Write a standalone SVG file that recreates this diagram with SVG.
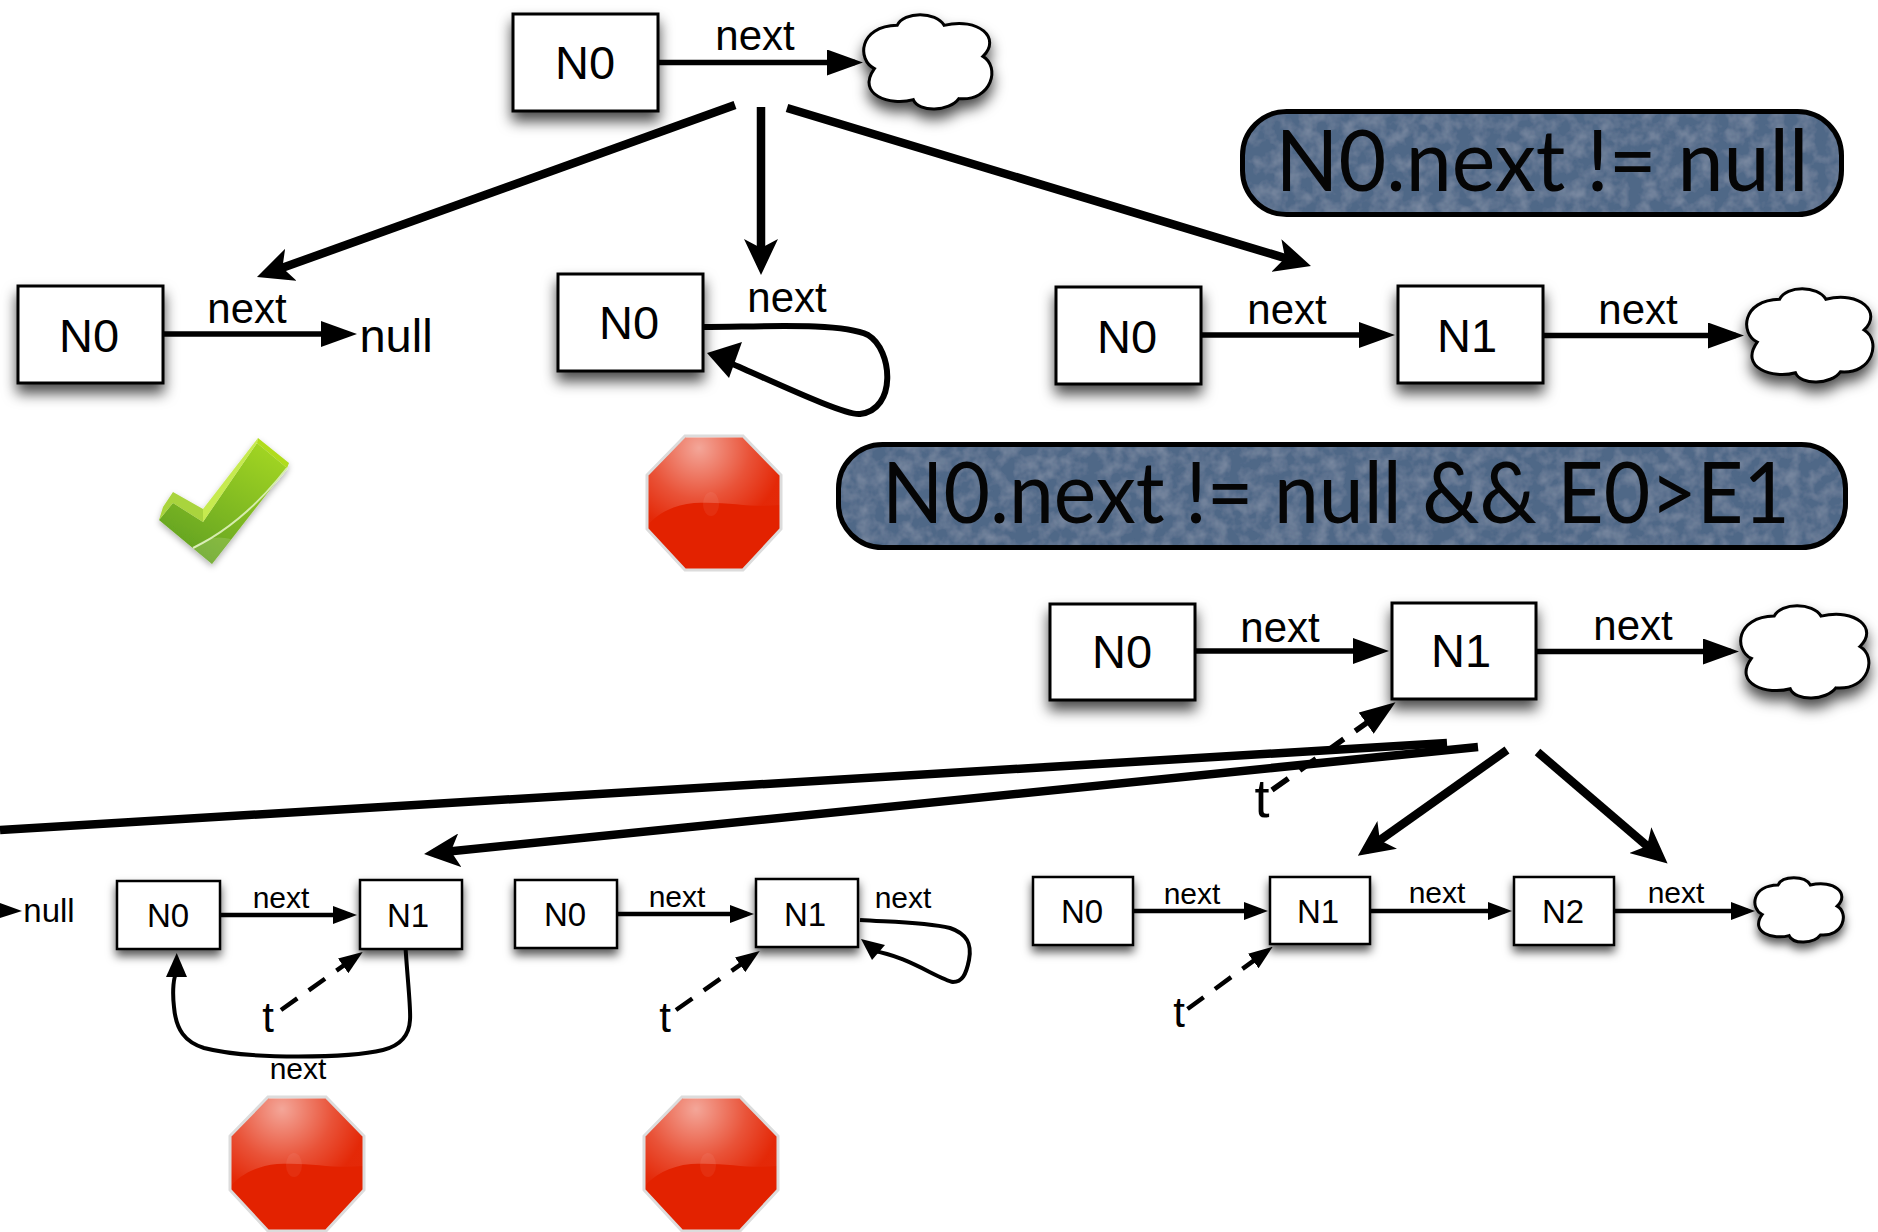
<svg xmlns="http://www.w3.org/2000/svg" width="1878" height="1232" viewBox="0 0 1878 1232">
<style>
text{font-family:"Liberation Sans",Arial,sans-serif;fill:#000;text-anchor:middle}
.box{fill:#fff;stroke:#000;stroke-width:3;filter:url(#sh)}
.boxs{fill:#fff;stroke:#000;stroke-width:2.5;filter:url(#shs)}
.cl{fill:#fff;stroke:#000;stroke-width:3;vector-effect:non-scaling-stroke}
.L{font-size:47px}.M{font-size:42px}.S{font-size:33px}.X{font-size:30px}.T{font-size:54px}.U{font-size:42px}
.a{fill:none;stroke:#000;stroke-width:5.5;marker-end:url(#mL)}
.s{fill:none;stroke:#000;stroke-width:4.5;marker-end:url(#mS)}
.b{fill:none;stroke:#000;stroke-width:8.5;marker-end:url(#mB)}
.d{stroke-dasharray:20 14}
.pf{fill:#4f6787;filter:url(#tx)}
.pill{fill:none;stroke:#000;stroke-width:5}
.p{font-family:Lato,"Open Sans",sans-serif;font-size:86px;fill:#050505}
</style>
<defs>
<filter id="sh" x="-30%" y="-30%" width="160%" height="170%"><feDropShadow dx="0" dy="9" stdDeviation="7" flood-color="#000" flood-opacity=".7"/></filter>
<filter id="shs" x="-30%" y="-30%" width="160%" height="170%"><feDropShadow dx="0" dy="6" stdDeviation="5" flood-color="#000" flood-opacity=".65"/></filter>
<filter id="tx" x="0" y="0" width="100%" height="100%"><feTurbulence type="fractalNoise" baseFrequency=".07" numOctaves="3" seed="4"/><feColorMatrix values="0 0 0 0 .7 0 0 0 0 .75 0 0 0 0 .85 .35 0 0 0 -.13"/><feComposite in2="SourceAlpha" operator="in" result="n"/><feMerge><feMergeNode in="SourceGraphic"/><feMergeNode in="n"/></feMerge></filter>
<filter id="cs" x="-20%" y="-20%" width="140%" height="140%"><feDropShadow dx="0" dy="3" stdDeviation="3" flood-color="#000" flood-opacity=".3"/></filter>
<marker id="mL" markerUnits="userSpaceOnUse" markerWidth="36" markerHeight="26" refX="28" refY="13" orient="auto"><path d="M0 0L36 13L0 26Z"/></marker>
<marker id="mS" markerUnits="userSpaceOnUse" markerWidth="24" markerHeight="18" refX="17" refY="9" orient="auto"><path d="M0 0L24 9L0 18Z"/></marker>
<marker id="mB" markerUnits="userSpaceOnUse" markerWidth="36" markerHeight="34" refX="26" refY="17" orient="auto"><path d="M0 0L36 17L0 34L9 17Z"/></marker>
<radialGradient id="gl" gradientUnits="userSpaceOnUse" cx="-15" cy="-55" r="85"><stop offset="0" stop-color="#fff" stop-opacity=".6"/><stop offset=".6" stop-color="#fff" stop-opacity=".22"/><stop offset="1" stop-color="#fff" stop-opacity=".03"/></radialGradient>
<linearGradient id="gc" x1=".8" y1="0" x2=".2" y2="1"><stop offset="0" stop-color="#a2d524"/><stop offset="1" stop-color="#5f9f1f"/></linearGradient>
<path id="cloud" class="cl" d="M10 57C-3 48-2 12 27 11C32-4 56-4 62 11C88 2 105 25 91 44C104 55 98 92 73 89C66 103 43 104 39 90C22 97-4 85 10 57Z"/>
<g id="stop">
<path d="M-29-67H29L67-28V26L29 67H-29L-67 26V-28Z" fill="#e32200" stroke="#dcdcdc" stroke-width="3"/>
<path d="M-28-66H28L66-27V2C35 5 15-2-20 0C-42 2-58 12-66 22V-27Z" fill="url(#gl)"/>
<ellipse cx="-3" cy="1" rx="8" ry="12" fill="#fff" opacity=".06"/>
</g>
</defs>
<rect width="1878" height="1232" fill="#fff"/>

<g id="root-n0"><rect class="box" x="513" y="14" width="145" height="97"/><text class="L" x="585" y="79">N0</text></g>
<g id="root-cloud" filter="url(#sh)"><use href="#cloud" transform="translate(861 15) scale(1.34 .94)"/></g>

<g id="case1-n0"><rect class="box" x="18" y="286" width="145" height="97"/><text class="L" x="89" y="352">N0</text></g>
<g id="case1-null"><text x="396" y="352" style="font-size:47px">null</text></g>
<g id="case2-n0"><rect class="box" x="558" y="274" width="145" height="97"/><text class="L" x="629" y="339">N0</text></g>
<g id="case3-n0"><rect class="box" x="1056" y="287" width="145" height="97"/><text class="L" x="1127" y="353">N0</text></g>
<g id="case3-n1"><rect class="box" x="1398" y="286" width="145" height="97"/><text class="L" x="1467" y="352">N1</text></g>
<g id="case3-cloud" filter="url(#sh)"><use href="#cloud" transform="translate(1744 289) scale(1.32 .93)"/></g>

<g id="cond1"><rect class="pf" x="1242" y="111" width="600" height="104" rx="44"/><rect class="pill" x="1242.500" y="111.500" width="599" height="103" rx="44"/><text class="p" x="1542" y="191" textLength="533" lengthAdjust="spacingAndGlyphs">N0.next != null</text></g>
<g id="cond2"><rect class="pf" x="838" y="444" width="1008" height="104" rx="44"/><rect class="pill" x="838.500" y="444.500" width="1007" height="103" rx="44"/><text class="p" x="1336" y="523" textLength="908" lengthAdjust="spacingAndGlyphs">N0.next != null &amp;&amp; E0&gt;E1</text></g>

<g id="check" filter="url(#cs)">
<path d="M173 503L203 522L257 443L287 468L212 564L159 520Z" fill="url(#gc)"/>
<path d="M173 492L203 509V522L173 503L159 520L163 507Z" fill="#a9d43c"/>
<path d="M203 509L258 438L257 443L203 522Z" fill="#c6ea50"/>
<path d="M258 438L289 463L287 468L257 443Z" fill="#b0dc1e"/>
<path d="M193 548C230 530 262 500 287 468" fill="none" stroke="#d6ecae" stroke-width="2"/>
<path d="M193 548C205 537 218 536 231 539L212 564Z" fill="#fff" opacity=".14"/>
</g>
<use id="stop1" href="#stop" transform="translate(714 503)"/>
<use id="stop2" href="#stop" transform="translate(297 1164)"/>
<use id="stop3" href="#stop" transform="translate(711 1164)"/>

<g id="s2-n0"><rect class="box" x="1050" y="604" width="145" height="96"/><text class="L" x="1122" y="668">N0</text></g>
<g id="s2-n1"><rect class="box" x="1392" y="603" width="144" height="96"/><text class="L" x="1461" y="667">N1</text></g>
<g id="s2-cloud" filter="url(#sh)"><use href="#cloud" transform="translate(1738 606) scale(1.34 .92)"/></g>
<g id="s2-t"><text class="T" x="1262" y="817">t</text></g>

<g id="a-null"><text class="S" x="49" y="922">null</text></g>
<g id="a-n0"><rect class="boxs" x="117" y="881" width="103" height="68"/><text class="S" x="168" y="927">N0</text></g>
<g id="a-n1"><rect class="boxs" x="360" y="880" width="102" height="69"/><text class="S" x="408" y="927">N1</text></g>
<g id="a-t"><text class="U" x="268" y="1032">t</text></g>
<g id="b-n0"><rect class="boxs" x="515" y="880" width="102" height="68"/><text class="S" x="565" y="926">N0</text></g>
<g id="b-n1"><rect class="boxs" x="756" y="879" width="102" height="68"/><text class="S" x="805" y="926">N1</text></g>
<g id="b-t"><text class="U" x="665" y="1032">t</text></g>
<g id="c-n0"><rect class="boxs" x="1033" y="877" width="100" height="68"/><text class="S" x="1082" y="923">N0</text></g>
<g id="c-n1"><rect class="boxs" x="1270" y="877" width="100" height="67"/><text class="S" x="1318" y="923">N1</text></g>
<g id="c-n2"><rect class="boxs" x="1514" y="877" width="100" height="68"/><text class="S" x="1563" y="923">N2</text></g>
<g id="c-cloud" filter="url(#shs)"><use href="#cloud" transform="translate(1753 878) scale(.925 .64)"/></g>
<g id="c-t"><text class="U" x="1179" y="1027">t</text></g>

<g id="connectors">
<path class="a" d="M658 62.500H855"/>
<path class="b" d="M735 105L266.400 273.600"/>
<path class="b" d="M761 107V265"/>
<path class="b" d="M787 108L1301.400 263"/>
<path class="a" d="M163 334H349"/>
<path d="M703 327C760 327 840 322 868 335C893 350 897 410 860 414C845 416 770 380 730 363" fill="none" stroke="#000" stroke-width="6"/>
<path d="M707 353L742 342L729 378Z"/>
<path class="a" d="M1201 335H1387"/>
<path class="a" d="M1543 335.500H1736"/>
<path class="a" d="M1195 651H1381"/>
<path class="a" d="M1536 651.500H1731"/>
<path class="a d" d="M1272 790L1389 707"/>
<path d="M1447 743L0 830" fill="none" stroke="#000" stroke-width="8.500"/>
<path class="b" d="M1478 747L434 853"/>
<path class="b" d="M1507 750L1366 850"/>
<path class="b" d="M1537.500 752L1660 857"/>
<path d="M0 903L22 911L0 918Z"/>
<path class="s" d="M220 915H350"/>
<path d="M405.600 949C408 985 411 1010 410 1020C409 1040 395 1047 383 1050C350 1058 250 1060 204 1048C185 1042 176 1030 174 1007C172 990 174 975 176 975" fill="none" stroke="#000" stroke-width="4"/>
<path d="M176.700 953L187 977H166Z"/>
<path class="s d" d="M281 1010L357 956"/>
<path class="s" d="M617 914H747"/>
<path d="M860 920C890 922 925 922 950 928C968 934 972 945 969 960C966 975 962 982 953 982C940 980 905 955 873 951" fill="none" stroke="#000" stroke-width="4"/>
<path d="M861 939L885 945L872 960Z"/>
<path class="s d" d="M676 1010L754 955"/>
<path class="s" d="M1133 911H1261"/>
<path class="s" d="M1370 911H1505"/>
<path class="s" d="M1614 911H1748"/>
<path class="s d" d="M1187.500 1009L1267 951"/>
<text class="M" x="755" y="50">next</text>
<text class="M" x="247" y="323">next</text>
<text class="M" x="787" y="312">next</text>
<text class="M" x="1287" y="324">next</text>
<text class="M" x="1638" y="324">next</text>
<text class="M" x="1280" y="642">next</text>
<text class="M" x="1633" y="640">next</text>
<text class="X" x="281" y="908">next</text>
<text class="X" x="298" y="1079">next</text>
<text class="X" x="677" y="907">next</text>
<text class="X" x="903" y="908">next</text>
<text class="X" x="1192" y="904">next</text>
<text class="X" x="1437" y="903">next</text>
<text class="X" x="1676" y="903">next</text>
</g>
</svg>
